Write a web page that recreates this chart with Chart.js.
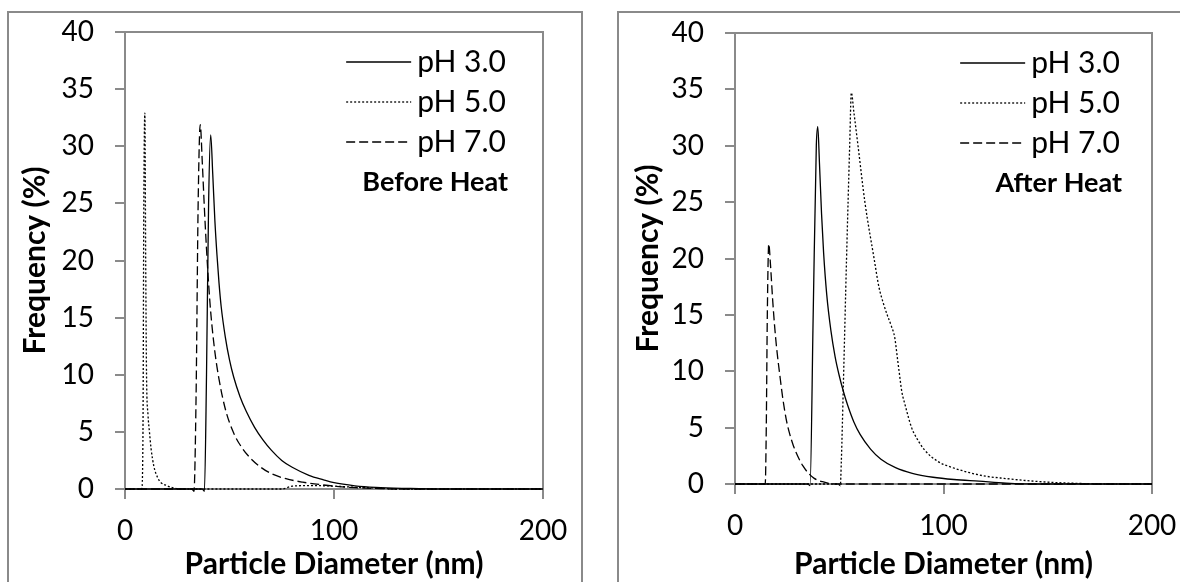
<!DOCTYPE html>
<html>
<head>
<meta charset="utf-8">
<script src="https://cdn.jsdelivr.net/npm/chart.js@4/dist/chart.umd.min.js"></script>
<style>
  html, body { margin: 0; padding: 0; background: #fff; overflow: hidden; width: 1180px; height: 582px; }
  .box { position: absolute; border: 2px solid #8a8a8a; background: #fff; }
  #boxA { left: 7px; top: 11px; width: 572px; height: 620px; }
  #boxB { left: 617px; top: 11px; width: 620px; height: 620px; }
  canvas { position: absolute; left: 0; top: 0; }
</style>
</head>
<body>
<div class="box" id="boxA"><canvas id="before" width="572" height="569"></canvas></div>
<div class="box" id="boxB"><canvas id="after" width="561" height="569"></canvas></div>
<script>
'use strict';

// axis ticks
const xTickValues = [0, 100, 200];
const yTickValues = [0, 5, 10, 15, 20, 25, 30, 35, 40];
const seriesLabels = ['pH 3.0', 'pH 5.0', 'pH 7.0'];

// ---- before heat ----
const before3x = [0, 37, 38, 39, 40, 41, 42, 43, 44, 45, 46, 48, 50, 52, 55, 58, 62, 66, 70, 75, 80, 88, 95, 100, 110, 120, 135, 150, 200];
const before3y = [0, 0, -0.2, 10, 25, 31, 27.5, 23.5, 20.5, 18, 16, 13.3, 11.3, 9.8, 8.1, 6.8, 5.4, 4.3, 3.4, 2.5, 1.9, 1.2, 0.8, 0.55, 0.28, 0.14, 0.05, 0, 0];

const before5x = [0, 8, 8.6, 9, 9.5, 9.9, 10.3, 11, 11.7, 12.5, 13.8, 15.6, 17, 20, 23, 26, 75, 80, 90, 100, 110, 120, 130, 200];
const before5y = [0, 0, 5, 25, 32.9, 20, 10, 6.5, 5, 3.5, 2, 1, 0.6, 0.3, 0.1, 0, 0, 0.25, 0.3, 0.25, 0.15, 0.08, 0, 0];

const before7x = [0, 32, 33, 34, 35, 36, 37, 38, 39, 40, 41, 43, 45, 48, 52, 56, 60, 65, 70, 77, 85, 95, 100, 110, 120, 130, 200];
const before7y = [0, 0, -0.2, 8, 25, 31.9, 28.5, 24.5, 21, 18, 15.5, 12, 9.6, 7, 4.9, 3.6, 2.7, 1.9, 1.35, 0.9, 0.6, 0.35, 0.25, 0.12, 0.05, 0, 0];

// ---- after heat ----
const after3x = [0, 35, 36, 37.5, 39, 39.7, 40.5, 41.5, 42.5, 44, 46, 48, 50, 52, 54, 57, 60, 65, 70, 77, 85, 95, 105, 117, 130, 145, 200];
const after3y = [0, 0, -0.15, 15, 30, 31.7, 28.5, 24, 20.5, 16.8, 13.6, 11.3, 9.6, 8.2, 7, 5.5, 4.4, 3.1, 2.2, 1.45, 0.95, 0.6, 0.4, 0.25, 0.08, 0, 0];

const after5x = [0, 49.5, 50.5, 51, 52, 53.5, 55, 55.8, 57, 59, 62.3, 66.7, 69, 71.2, 73, 75, 76.6, 78, 78.7, 80, 81.6, 84.7, 88, 91, 97.3, 103.6, 112.6, 120, 129, 147, 165, 180, 200];
const after5y = [0, 0, -0.15, 2, 9, 20, 30, 34.7, 33, 30, 25, 20, 17.5, 16, 15, 14, 13, 11, 10, 8.2, 7, 5, 3.8, 3, 2, 1.5, 1, 0.7, 0.5, 0.2, 0.05, 0, 0];

const after7x = [0, 14.5, 15, 15.5, 16.2, 17, 18, 19, 20, 21.6, 23, 24.5, 26, 28, 30, 32.6, 35, 38, 42, 48, 200];
const after7y = [0, 0, 5, 15, 21.3, 19.5, 16.5, 14, 12, 9.5, 7.5, 5.8, 4.6, 3.4, 2.5, 1.6, 1.0, 0.5, 0.2, 0, 0];

const dashes = [[], [2, 2], [9, 4]];

function toPoints(xs, ys) {
  return xs.map((x, i) => ({ x: x, y: ys[i] }));
}

// legend + note drawn inside the plot area
const innerLegend = {
  id: 'innerLegend',
  afterDatasetsDraw(chart, args, opts) {
    const ctx = chart.ctx;
    const area = chart.chartArea;
    ctx.save();
    ctx.font = '30px Lato';
    const w = Math.max(...chart.data.datasets.map(d => ctx.measureText(d.label).width));
    const textLeft = area.right - opts.right - w;
    chart.data.datasets.forEach((ds, i) => {
      const y = area.top + opts.top + i * opts.rowGap;
      ctx.strokeStyle = '#000';
      ctx.lineWidth = 1.3;
      ctx.setLineDash(ds.borderDash);
      ctx.beginPath();
      ctx.moveTo(textLeft - opts.gap - opts.lineLen, y);
      ctx.lineTo(textLeft - opts.gap, y);
      ctx.stroke();
      ctx.fillStyle = '#000';
      ctx.textBaseline = 'middle';
      ctx.textAlign = 'left';
      ctx.fillText(ds.label, textLeft, y);
    });
    ctx.setLineDash([]);
    ctx.font = 'bold 27px Lato';
    ctx.textAlign = 'right';
    ctx.fillText(opts.note, area.right - opts.noteRight, area.top + opts.noteTop);
    ctx.restore();
  }
};

// gray frame around the plot area
const plotFrame = {
  id: 'plotFrame',
  beforeDatasetsDraw(chart) {
    const ctx = chart.ctx;
    const a = chart.chartArea;
    ctx.save();
    ctx.strokeStyle = '#8a8a8a';
    ctx.lineWidth = 2;
    ctx.strokeRect(a.left, a.top, a.right - a.left, a.bottom - a.top);
    ctx.restore();
  }
};

function makeChart(id, xs, ys, cfg) {
  const datasets = seriesLabels.map((label, i) => ({
    label: label,
    data: toPoints(xs[i], ys[i]),
    borderColor: '#000',
    borderWidth: 1.3,
    borderDash: dashes[i],
    pointRadius: 0,
    cubicInterpolationMode: 'monotone',
    fill: false,
    clip: 4
  }));

  return new Chart(document.getElementById(id), {
    type: 'line',
    data: { datasets: datasets },
    options: {
      responsive: false,
      animation: false,
      layout: { padding: { top: cfg.top, right: cfg.right, left: 0, bottom: 0 } },
      plugins: {
        legend: { display: false },
        tooltip: { enabled: false },
        innerLegend: { right: cfg.legendRight, top: 30, rowGap: 40, lineLen: 65, gap: 6, note: cfg.note, noteRight: cfg.legendRight - 2, noteTop: 150 }
      },
      scales: {
        x: {
          type: 'linear',
          min: 0,
          max: 200,
          afterBuildTicks: s => { s.ticks = xTickValues.map(v => ({ value: v })); },
          afterFit: s => { s.height = cfg.xHeight; s.paddingLeft = 0; s.paddingRight = 0; },
          border: { color: '#8a8a8a', width: 2 },
          grid: { drawOnChartArea: false, color: '#8a8a8a', lineWidth: 2, tickLength: 10 },
          ticks: { color: '#000', font: { family: 'Lato', size: 28 }, padding: 15, maxRotation: 0 },
          title: { display: true, text: 'Particle Diameter (nm)', color: '#000', font: { family: 'Lato', size: 30, weight: 'bold' }, padding: { top: 0, bottom: 0 } }
        },
        y: {
          min: 0,
          max: 40,
          afterBuildTicks: s => { s.ticks = yTickValues.map(v => ({ value: v })); },
          afterFit: s => { s.width = 116; s.paddingTop = 0; s.paddingBottom = 0; },
          border: { color: '#8a8a8a', width: 2 },
          grid: { drawOnChartArea: false, color: '#8a8a8a', lineWidth: 2, tickLength: 10 },
          ticks: { color: '#000', font: { family: 'Lato', size: 28 }, padding: 21 },
          title: { display: true, text: 'Frequency (%)', color: '#000', font: { family: 'Lato', size: 30, weight: 'bold' }, padding: { top: cfg.yTitlePad, bottom: 0 } }
        }
      }
    },
    plugins: [plotFrame, innerLegend]
  });
}

makeChart('before',
  [before3x, before5x, before7x],
  [before3y, before5y, before7y],
  { top: 19, right: 38, xHeight: 93, legendRight: 37, note: 'Before Heat', yTitlePad: 8 });

makeChart('after',
  [after3x, after5x, after7x],
  [after3y, after5y, after7y],
  { top: 20, right: 28, xHeight: 98, legendRight: 32, note: 'After Heat', yTitlePad: 11 });
</script>
</body>
</html>
